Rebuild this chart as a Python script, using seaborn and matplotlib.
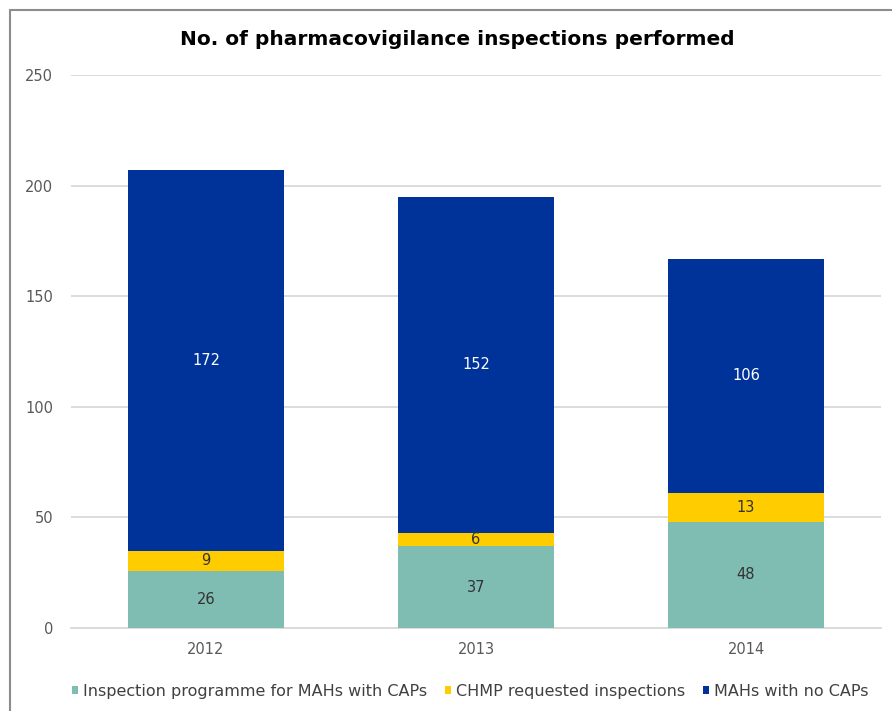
import numpy as np
import pandas as pd
import matplotlib
matplotlib.use('Agg')
import matplotlib.pyplot as plt
import seaborn as sns
from matplotlib.lines import Line2D
from matplotlib.patches import Patch

# --- data ---
years = ['2012', '2013', '2014']
caps_programme = [26, 37, 48]
chmp_requested = [9, 6, 13]
no_caps = [172, 152, 106]

series_names = ['Inspection programme for MAHs with CAPs',
                'CHMP requested inspections',
                'MAHs with no CAPs']
colors = ['#7fbcb1', '#ffcc00', '#003399']
label_colors = ['#333333', '#333333', '#ffffff']

sns.set_theme(style='white')
plt.rcParams['font.family'] = ['DejaVu Sans']

fig = plt.figure(figsize=(8.92, 7.11), dpi=100)
ax = fig.add_axes([0.0796, 0.1167, 0.9081, 0.7778])

# stacked bars: draw cumulative totals, tallest first
layers = [caps_programme, chmp_requested, no_caps]
cum = np.cumsum(np.array(layers), axis=0)
for i in range(len(layers) - 1, -1, -1):
    df = pd.DataFrame({'year': years, 'value': cum[i]})
    sns.barplot(data=df, x='year', y='value', color=colors[i], width=0.578,
                saturation=1, linewidth=0, ax=ax, zorder=3)

# value labels in the middle of each segment
for i, layer in enumerate(layers):
    base = cum[i] - np.array(layer)
    for j, v in enumerate(layer):
        ax.text(j, base[j] + v / 2, str(v), ha='center', va='center',
                fontsize=10.5, color=label_colors[i], zorder=4)

ax.set_ylim(0, 250)
ax.set_yticks([0, 50, 100, 150, 200, 250])
ax.set_xlim(-0.5, 2.5)
ax.yaxis.grid(True, color='#d9d9d9', linewidth=1.3, zorder=0)
ax.set_axisbelow(True)
for s in ax.spines.values():
    s.set_visible(False)
ax.spines['bottom'].set_visible(True)
ax.spines['bottom'].set_color('#d9d9d9')
ax.spines['bottom'].set_linewidth(1.3)
ax.set_xlabel('')
ax.set_ylabel('')
ax.tick_params(axis='both', length=0, labelsize=10.5, labelcolor='#595959')
ax.tick_params(axis='y', pad=13)
ax.tick_params(axis='x', pad=10)

fig.text(0.513, 0.945, 'No. of pharmacovigilance inspections performed',
         ha='center', va='center', fontsize=14.5, fontweight='bold', color='#000000')

handles = [Patch(facecolor=c, edgecolor='none') for c in colors]
fig.legend(handles, series_names, loc='center', bbox_to_anchor=(0.527, 0.028),
           ncol=3, frameon=False, fontsize=11.5, labelcolor='#404040',
           handlelength=0.4, handleheight=0.4, handletextpad=0.3, columnspacing=1.1)

# outer frame lines (top and left)
fig.add_artist(Line2D([0.011, 1.0], [0.986, 0.986], color='#8c8c8c', linewidth=1.5,
                      transform=fig.transFigure))
fig.add_artist(Line2D([0.011, 0.011], [0.0, 0.986], color='#8c8c8c', linewidth=1.5,
                      transform=fig.transFigure))

fig.savefig('out.png', dpi=100)
